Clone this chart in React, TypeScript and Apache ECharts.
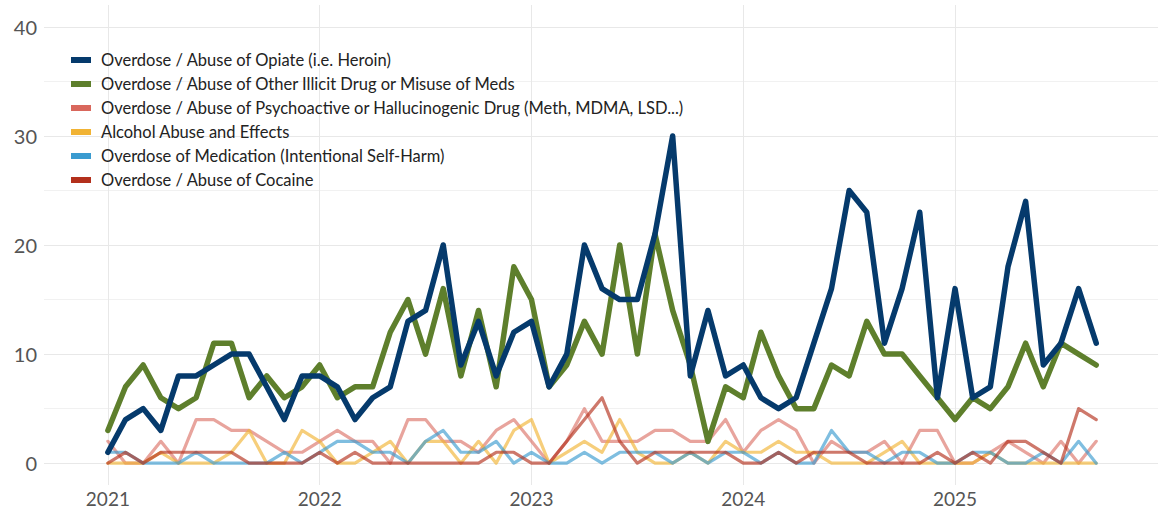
import React, { useEffect, useRef } from "react";
import * as echarts from "echarts";

// Monthly categories: Jan 2021 .. Sep 2025
const months: string[] = [
  "2021-01","2021-02","2021-03","2021-04","2021-05","2021-06","2021-07","2021-08","2021-09","2021-10","2021-11","2021-12",
  "2022-01","2022-02","2022-03","2022-04","2022-05","2022-06","2022-07","2022-08","2022-09","2022-10","2022-11","2022-12",
  "2023-01","2023-02","2023-03","2023-04","2023-05","2023-06","2023-07","2023-08","2023-09","2023-10","2023-11","2023-12",
  "2024-01","2024-02","2024-03","2024-04","2024-05","2024-06","2024-07","2024-08","2024-09","2024-10","2024-11","2024-12",
  "2025-01","2025-02","2025-03","2025-04","2025-05","2025-06","2025-07","2025-08","2025-09",
];

const yearLabels = ["2021", "2022", "2023", "2024", "2025"];
const yearTickMonths = [0, 12, 24, 36, 48];
const yTickValues = [0, 10, 20, 30, 40];
const yMinorValues = [5, 15, 25, 35];

const opiate = [
  1, 4, 5, 3, 8, 8, 9, 10, 10, 7, 4, 8,
  8, 7, 4, 6, 7, 13, 14, 20, 9, 13, 8, 12,
  13, 7, 10, 20, 16, 15, 15, 21, 30, 8, 14, 8,
  9, 6, 5, 6, 11, 16, 25, 23, 11, 16, 23, 6,
  16, 6, 7, 18, 24, 9, 11, 16, 11,
];
const otherIllicit = [
  3, 7, 9, 6, 5, 6, 11, 11, 6, 8, 6, 7,
  9, 6, 7, 7, 12, 15, 10, 16, 8, 14, 7, 18,
  15, 7, 9, 13, 10, 20, 10, 21, 14, 9, 2, 7,
  6, 12, 8, 5, 5, 9, 8, 13, 10, 10, 8, 6,
  4, 6, 5, 7, 11, 7, 11, 10, 9,
];
const psychoactive = [
  2, 0, 0, 2, 0, 4, 4, 3, 3, 2, 1, 1,
  2, 3, 2, 2, 0, 4, 4, 2, 2, 1, 3, 4,
  2, 0, 2, 5, 2, 2, 2, 3, 3, 2, 2, 4,
  1, 3, 4, 3, 0, 2, 1, 1, 2, 0, 3, 3,
  0, 0, 1, 2, 1, 0, 2, 0, 2,
];
const alcohol = [
  0, 0, 0, 1, 0, 0, 0, 1, 3, 0, 0, 3,
  2, 0, 0, 1, 2, 0, 2, 2, 0, 2, 0, 3,
  4, 0, 1, 2, 1, 4, 1, 0, 0, 1, 0, 2,
  1, 1, 2, 1, 1, 0, 0, 0, 1, 2, 0, 0,
  0, 0, 1, 0, 0, 0, 0, 0, 0,
];
const medication = [
  1, 1, 0, 0, 0, 1, 0, 0, 0, 0, 1, 0,
  1, 2, 2, 1, 1, 0, 2, 3, 1, 1, 2, 0,
  1, 0, 0, 1, 0, 1, 1, 1, 0, 1, 0, 1,
  1, 0, 1, 0, 0, 3, 1, 1, 0, 1, 1, 0,
  0, 1, 1, 0, 0, 1, 0, 2, 0,
];
const cocaine = [
  0, 1, 0, 1, 1, 1, 1, 1, 0, 0, 0, 0,
  1, 0, 1, 0, 0, 0, 0, 0, 0, 0, 1, 1,
  0, 0, 2, 4, 6, 2, 0, 1, 1, 1, 1, 1,
  0, 0, 1, 0, 1, 1, 1, 0, 0, 0, 0, 1,
  0, 1, 0, 2, 2, 1, 0, 5, 4,
];

const names = [
  "Overdose / Abuse of Opiate (i.e. Heroin)",
  "Overdose / Abuse of Other Illicit Drug or Misuse of Meds",
  "Overdose / Abuse of Psychoactive or Hallucinogenic Drug (Meth, MDMA, LSD...)",
  "Alcohol Abuse and Effects",
  "Overdose of Medication (Intentional Self-Harm)",
  "Overdose / Abuse of Cocaine",
];
const colors = ["#053a6c", "#5e7f2c", "#d9675c", "#f1b334", "#3a9bd0", "#b3301c"];

const toPairs = (vals: number[]) => months.map((_, i) => [i, vals[i]]);

export default function App() {
  const ref = useRef<HTMLDivElement>(null);

  useEffect(() => {
    document.body.style.margin = "0";
    const chart = echarts.init(ref.current!, null, { renderer: "svg" });
    const font = "Lato, 'Noto Sans', sans-serif";
    const mk = (idx: number, vals: number[], width: number, opacity: number) => ({
      name: names[idx],
      type: "line",
      data: toPairs(vals),
      showSymbol: false,
      symbol: "none",
      clip: false,
      color: colors[idx],
      itemStyle: { color: colors[idx] },
      lineStyle: { width, color: colors[idx], opacity, cap: "round", join: "round" },
      emphasis: { disabled: true },
    });

    chart.setOption({
      animation: false,
      textStyle: { fontFamily: font },
      grid: { left: 44, right: 6, top: 5, bottom: 25, containLabel: false },
      legend: {
        show: true,
        orient: "vertical",
        left: 66,
        top: 46,
        icon: "rect",
        itemWidth: 20,
        itemHeight: 6,
        itemGap: 6,
        data: names,
        textStyle: { fontSize: 16.5, color: "#222", fontFamily: font, lineHeight: 18, padding: [0, 0, 0, 5] },
        selectedMode: false,
      },
      xAxis: {
        type: "value",
        min: -3.62,
        max: 59.5,
        axisLine: { show: false },
        axisTick: { show: false, customValues: yearTickMonths },
        axisLabel: {
          customValues: yearTickMonths,
          formatter: (v: number) => yearLabels[Math.round(v / 12)] ?? "",
          fontSize: 19,
          color: "#555555",
          margin: 4,
          fontFamily: font,
        },
        splitLine: { show: true, lineStyle: { color: "#e8e8e8", width: 1 } },
      },
      yAxis: [
        {
          type: "value",
          min: -2,
          max: 42,
          axisLine: { show: false },
          axisTick: { show: false, customValues: yTickValues },
          axisLabel: {
            customValues: yTickValues,
            fontSize: 20,
            color: "#555555",
            margin: 7,
            fontFamily: font,
          },
          splitLine: { show: true, lineStyle: { color: "#e8e8e8", width: 1 } },
        },
        {
          type: "value",
          min: -2,
          max: 42,
          position: "left",
          axisLine: { show: false },
          axisTick: { show: false, customValues: yMinorValues },
          axisLabel: { show: false, customValues: yMinorValues },
          splitLine: { show: true, lineStyle: { color: "#f1f1f1", width: 1 } },
        },
      ],
      series: [
        mk(2, psychoactive, 3.2, 0.6),
        mk(3, alcohol, 3.2, 0.65),
        mk(4, medication, 3.2, 0.65),
        mk(5, cocaine, 3.2, 0.65),
        mk(1, otherIllicit, 5.5, 1),
        mk(0, opiate, 5.5, 1),
      ],
    });
    return () => chart.dispose();
  }, []);

  return <div ref={ref} style={{ width: 1164, height: 510 }} />;
}
